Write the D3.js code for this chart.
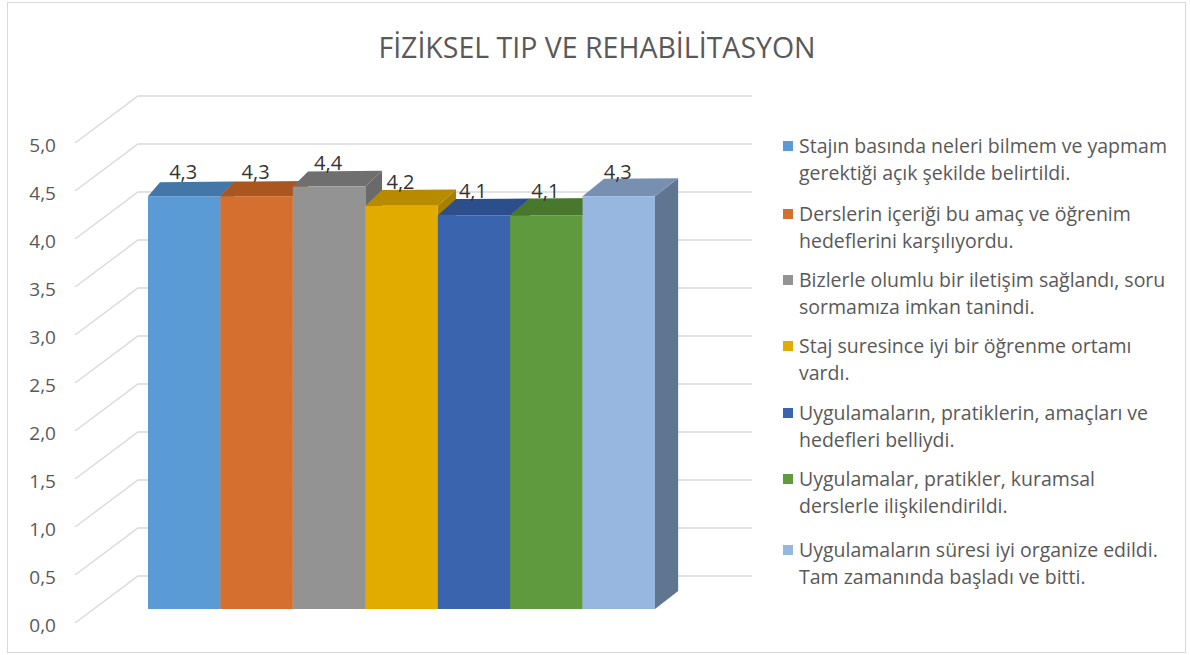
<!DOCTYPE html>
<html>
<head>
<meta charset="utf-8">
<script src="https://cdn.jsdelivr.net/npm/d3@7"></script>
<style>
  body { margin: 0; background: #fff; }
  text { font-family: "Open Sans", sans-serif; }
</style>
</head>
<body>
<script>
// chart data
var title = "FİZİKSEL TIP VE REHABİLİTASYON";
var categories = [
  ["Stajın basında neleri bilmem ve yapmam", "gerektiği açık şekilde belirtildi."],
  ["Derslerin içeriği bu amaç ve öğrenim", "hedeflerini karşılıyordu."],
  ["Bizlerle olumlu bir iletişim sağlandı, soru", "sormamıza imkan tanindi."],
  ["Staj suresince iyi bir öğrenme ortamı", "vardı."],
  ["Uygulamaların, pratiklerin, amaçları ve", "hedefleri belliydi."],
  ["Uygulamalar, pratikler, kuramsal", "derslerle ilişkilendirildi."],
  ["Uygulamaların süresi iyi organize edildi.", "Tam zamanında başladı ve bitti."]
];
var values = [4.3, 4.3, 4.4, 4.2, 4.1, 4.1, 4.3];
var yTicks = [0, 0.5, 1, 1.5, 2, 2.5, 3, 3.5, 4, 4.5, 5];

var frontColors = ["#5b9bd5", "#d56f2f", "#939393", "#e2ab00", "#3a65ae", "#5f9a3e", "#97b7e1"];
var topColors   = ["#4277a8", "#a9561f", "#6f6f6f", "#b88a00", "#2c4e8a", "#47782d", "#7790b1"];
var sideColors  = ["#3f6f9c", "#9c4f1c", "#6a6a6a", "#a97f00", "#28477e", "#416e29", "#607690"];

var width = 1190, height = 655;
var locale = d3.formatLocale({decimal: ",", thousands: ".", grouping: [3], currency: ["", ""]});
var fmt = locale.format(".1f");

var svg = d3.select("body").append("svg")
  .attr("width", width)
  .attr("height", height);

// chart border
svg.append("rect")
  .attr("x", 7.5).attr("y", 2.5)
  .attr("width", 1178).attr("height", 650)
  .attr("fill", "#fff")
  .attr("stroke", "#d9d9d9");

svg.append("text")
  .attr("x", 597).attr("y", 58)
  .attr("text-anchor", "middle")
  .attr("font-size", 28.5)
  .attr("fill", "#595959")
  .text(title);

// back wall scale and bar scale
var yBack = d3.scaleLinear().domain([0, 5]).range([576, 96]);
var yBar = d3.scaleLinear().domain([0, 5]).range([609, 129]);
var x = d3.scaleBand().domain(d3.range(values.length)).range([148, 655]).paddingInner(0);

var wallLeft = 138, wallRight = 752, sideDx = -63, sideDy = 47;

var grid = svg.append("g").attr("fill", "none").attr("stroke", "#d9d9d9").attr("stroke-width", 1.3);
grid.selectAll("path")
  .data(yTicks)
  .enter().append("path")
  .attr("d", function(d) {
    var yb = yBack(d);
    return "M" + (wallLeft + sideDx) + "," + (yb + sideDy) + "L" + wallLeft + "," + yb + "L" + wallRight + "," + yb;
  });

svg.append("g").selectAll("text")
  .data(yTicks)
  .enter().append("text")
  .attr("x", 56)
  .attr("y", function(d) { return yBack(d) + sideDy + 9; })
  .attr("text-anchor", "end")
  .attr("font-size", 19)
  .attr("fill", "#595959")
  .text(function(d) { return fmt(d); });

// depth offset grows a bit to the right (perspective)
function depth(px) {
  return [12 + 0.022 * (px - 148), -(14 + 0.008 * (px - 148))];
}

var bars = svg.append("g");
values.forEach(function(v, i) {
  var x0 = x(i), x1 = x(i) + x.bandwidth();
  var yt = yBar(v), yb = yBar(0);
  var d0 = depth(x0), d1 = depth(x1);
  var g = bars.append("g");
  // right side face
  g.append("path")
    .attr("d", "M" + x1 + "," + yt + "L" + (x1 + d1[0]) + "," + (yt + d1[1]) +
      "L" + (x1 + d1[0]) + "," + (yb + d1[1]) + "L" + x1 + "," + yb + "Z")
    .attr("fill", sideColors[i]);
  // top face
  g.append("path")
    .attr("d", "M" + x0 + "," + yt + "L" + x1 + "," + yt +
      "L" + (x1 + d1[0]) + "," + (yt + d1[1]) + "L" + (x0 + d0[0]) + "," + (yt + d0[1]) + "Z")
    .attr("fill", topColors[i]);
  // front face
  g.append("rect")
    .attr("x", x0).attr("y", yt)
    .attr("width", x.bandwidth()).attr("height", yb - yt)
    .attr("fill", frontColors[i]);
});

svg.append("g").selectAll("text")
  .data(values)
  .enter().append("text")
  .attr("x", function(d, i) { return x(i) + x.bandwidth() / 2 - 1; })
  .attr("y", function(d) { return yBar(d) - 17; })
  .attr("text-anchor", "middle")
  .attr("font-size", 20)
  .attr("fill", "#333")
  .text(function(d) { return fmt(d); });

// legend
var legend = svg.append("g");
var legendY = [146, 214, 280, 346, 413, 479, 550];
categories.forEach(function(lines, i) {
  legend.append("rect")
    .attr("x", 783).attr("y", legendY[i] - 5)
    .attr("width", 10).attr("height", 10)
    .attr("fill", frontColors[i]);
  lines.forEach(function(t, j) {
    legend.append("text")
      .attr("x", 799).attr("y", legendY[i] + 7 + j * 27)
      .attr("font-size", 19.5)
      .attr("fill", "#595959")
      .text(t);
  });
});
</script>
</body>
</html>
